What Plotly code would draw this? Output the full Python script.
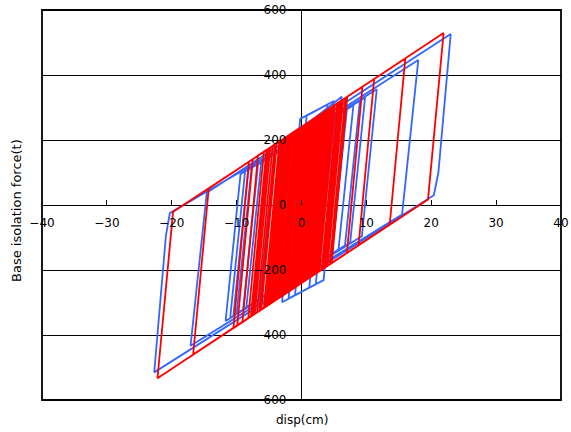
import plotly.graph_objects as go

# Hysteresis path vertices (displacement cm, force t)
red_disp = [0, 1.2, 1.5, -0.9, -2.0, 0.4, 3.0, 0.6, -3.0, -0.6, 4.2, 1.8, -4.5, -2.1, 4.9, 2.5,
            -5.5, -3.1, 2.9, 0.5, -6.5, -4.1, 6.4, 4.0, -2.5, -0.1, 9.4, 7.0, -7.5, -5.1, 4.4, 2.0,
            -9.1, -6.7, 11.2, 8.8, -10.5, -8.1, 3.6, 1.2, -3.8, -1.4, 16.0, 13.6, -16.7, -14.3,
            21.9, 19.5, -22.2, -19.8, 5.7, 3.3, -8.2, -5.8, 5.5, 3.1, -9.9, -7.5, 3.2, 0.8, -5.0,
            -2.6, 4.0, 1.6, -3.5, -1.1, 2.2, -0.2, -4.0, -1.6, 1.0, -1.4, -1.8, 0.6, 4.8, 2.4,
            -4.8, -2.4, 3.7, 1.3, -2.8, -0.4, 5.8, 3.4, -5.8, -3.4, 2.6, 0.2, -3.3, -0.9, 1.8,
            -0.6, -1.2, 1.2, 1.3, -1.1, -7.8, -5.4, 2.0, -0.4, -7.2, -4.8, 2.4, 0.0, -6.85, -4.45,
            2.75, 0.35, -6.2, -3.8, 3.4, 1.0, -5.25, -2.85, 3.85, 1.45, -4.25, -1.85, 4.6, 2.2,
            -3.2, -0.8, 5.15, 2.75, -2.3, 0.1, 6.0, 3.6, -1.6, 0.8, 6.2, 3.8, -0.9, 1.5, 6.75,
            4.35, -1.5, 0.9, 7.05, 4.65, -0.5, 0.7]
red_force = [0, 256, 260, -252, -266, 245, 280, -232, -280, 232, 295, -216, -299, 212, 305, -207,
             -313, 199, 278, -233, -326, 186, 324, -187, -273, 239, 364, -148, -339, 173, 298, -214,
             -360, 152, 388, -124, -379, 133, 288, -224, -290, 222, 451, -60, -460, 51,
             529, 17, -533, -21, 315, -196, -348, 163, 313, -199, -371, 141, 282, -229, -306,
             206, 293, -219, -286, 225, 269, -243, -293, 219, 253, -258, -264, 248, 303, -208,
             -303, 208, 289, -223, -277, 235, 317, -195, -317, 195, 274, -237, -284, 228, 264,
             -248, -256, 256, 257, -255, -343, 169, 266, -245, -335, 177, 272, -240, -330, 181,
             276, -235, -322, 190, 285, -227, -309, 202, 291, -221, -296, 216, 301, -211,
             -282, 229, 308, -204, -270, 241, 319, -192, -261, 251, 322, -190, -252, 260, 329,
             -183, -260, 252, 333, -179, -247, 0]

blue_disp = [0, 1.2, 6.2, 3.4, -3.0, -0.2, 5.0, 2.2, -2.0, 0.8, 4.0, 1.2, -1.0, 1.4, 8.0, 5.7,
             -8.5, -6.2, 9.8, 7.5, -10.0, -7.7, 11.6, 9.3, -11.7, -9.4, 18.0, 15.5, -17.1, -14.6,
             23.0, 21.1, 20.4, -22.7, -20.9, -20.3, 7.0, 4.7, -6.5, -4.2, 5.1, 2.8, -9.0, -6.7,
             4.4, 2.1, -11.0, -8.7, 9.0, 6.7, -10.5, -8.2, 3.0, 0.7, -5.0, -3.7]
blue_force = [0, 255, 333, -231, -299, 265, 320, -244, -288, 275, 309, -254, -278, 223, 307, -137,
              -314, 131, 331, -116, -334, 114, 356, -96, -357, 95, 446, -29, -433, 38,
              526, 100, 30, -515, -95, -25, 294, -149, -288, 154, 269, -171, -321, 125,
              260, -180, -348, 103, 321, -125, -341, 108, 242, -196, -268, 0]

x_ticks = [-40, -30, -20, -10, 0, 10, 20, 30, 40]
y_ticks = [-600, -400, -200, 0, 200, 400, 600]

FONT = "DejaVu Sans"

fig = go.Figure()
fig.add_trace(go.Scatter(x=blue_disp, y=blue_force, mode="lines",
                         line=dict(color="#3366FF", width=1.8), hoverinfo="skip"))
fig.add_trace(go.Scatter(x=red_disp, y=red_force, mode="lines",
                         line=dict(color="#FF0000", width=1.8), hoverinfo="skip"))

fig.update_layout(
    width=571, height=432,
    margin=dict(l=42, r=10, t=10, b=32, autoexpand=False),
    paper_bgcolor="white", plot_bgcolor="white",
    showlegend=False,
    font=dict(family=FONT, size=12, color="black"),
    xaxis=dict(range=[-40, 40], tickvals=x_ticks, anchor="free", position=0.5,
               automargin=False,
               showgrid=False, zeroline=True, zerolinecolor="black", zerolinewidth=1,
               showline=False, ticks="inside", ticklen=5, tickcolor="black", tickwidth=1,
               ticklabelstandoff=9, tickfont=dict(family=FONT, size=12, color="black")),
    yaxis=dict(range=[-600, 600], tickvals=y_ticks, anchor="free", position=0.5,
               automargin=False,
               showgrid=True, gridcolor="black", gridwidth=1,
               zeroline=True, zerolinecolor="black", zerolinewidth=1,
               showline=False, ticks="", ticklabelstandoff=15,
               tickfont=dict(family=FONT, size=12, color="black")),
    shapes=[dict(type="rect", xref="paper", yref="paper", x0=0, x1=1, y0=0, y1=1,
                 line=dict(color="black", width=1.8), layer="above")],
    annotations=[
        dict(text="Base isolation force(t)", xref="paper", yref="paper", x=-0.048, y=0.485,
             xanchor="center", yanchor="middle", textangle=-90, showarrow=False,
             font=dict(family=FONT, size=13, color="black")),
        dict(text="disp(cm)", xref="paper", yref="paper", x=0.5, y=-0.051,
             xanchor="center", yanchor="middle", showarrow=False,
             font=dict(family=FONT, size=12, color="black")),
    ],
)

fig.write_html("out.html", config={"displayModeBar": False},
               post_script="document.body.style.margin='0';document.body.style.overflow='hidden';")
